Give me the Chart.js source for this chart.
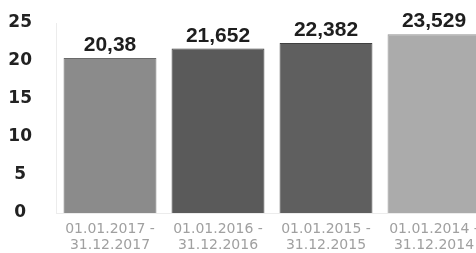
<!DOCTYPE html>
<html>
<head>
<meta charset="utf-8">
<script src="https://cdn.jsdelivr.net/npm/chart.js@4/dist/chart.umd.min.js"></script>
<style>
  html, body { margin: 0; padding: 0; background: #fff; overflow: hidden; }
  #wrap { width: 476px; height: 253px; overflow: hidden; }
</style>
</head>
<body>
<div id="wrap"><canvas id="chart" width="488" height="253"></canvas></div>
<script>
const periods = [
    ['01.01.2017 -', '31.12.2017'],
    ['01.01.2016 -', '31.12.2016'],
    ['01.01.2015 -', '31.12.2015'],
    ['01.01.2014 -', '31.12.2014']
];
const values = [20.38, 21.652, 22.382, 23.529];
const barColors = ['#8b8b8b', '#5a5a5a', '#5f5f5f', '#ababab'];
const edgeColors = ['#6a6a6a', '#3e3e3e', '#404040', '#949494'];
const yTicks = [0, 5, 10, 15, 20, 25];

// writes the value above each bar, decimal comma as in the original
const valueLabels = {
    id: 'valueLabels',
    afterDatasetsDraw(chart) {
        const ctx = chart.ctx;
        const meta = chart.getDatasetMeta(0);
        ctx.save();
        ctx.font = 'bold 21px "Liberation Sans", Arial, sans-serif';
        ctx.fillStyle = '#1e1e1e';
        ctx.textAlign = 'center';
        ctx.textBaseline = 'bottom';
        meta.data.forEach((bar, i) => {
            const text = String(values[i]).replace('.', ',');
            ctx.fillText(text, bar.x, bar.y - 2);
        });
        ctx.restore();
    }
};

const ctx = document.getElementById('chart').getContext('2d');
new Chart(ctx, {
    type: 'bar',
    data: {
        labels: periods,
        datasets: [{
            data: values,
            backgroundColor: barColors,
            borderColor: edgeColors,
            borderWidth: 1,
            barPercentage: 0.86,
            categoryPercentage: 1
        }]
    },
    options: {
        responsive: false,
        animation: false,
        layout: { padding: { top: 23, right: 0, bottom: 0, left: 0 } },
        plugins: { legend: { display: false }, tooltip: { enabled: false } },
        scales: {
            x: {
                grid: { display: false, drawTicks: false },
                border: { display: true, color: '#ececec' },
                ticks: {
                    color: '#a0a0a0',
                    font: { family: '"DejaVu Sans", sans-serif', size: 14, lineHeight: 1.1 },
                    padding: 9,
                    maxRotation: 0,
                    autoSkip: false
                },
                afterFit(scale) { scale.height = 40; }
            },
            y: {
                min: 0,
                max: 25,
                afterBuildTicks(scale) { scale.ticks = yTicks.map(v => ({ value: v })); },
                grid: { display: false, drawTicks: false },
                border: { display: true, color: '#ececec' },
                ticks: {
                    color: '#222',
                    crossAlign: 'center',
                    padding: 24,
                    font: { family: '"DejaVu Sans", sans-serif', size: 17, weight: 'bold' }
                },
                afterFit(scale) {
                    scale.width = 56;
                    // label padding is only meant to push text sideways
                    scale.paddingTop = 10;
                    scale.paddingBottom = 10;
                }
            }
        }
    },
    plugins: [valueLabels]
});
</script>
</body>
</html>
